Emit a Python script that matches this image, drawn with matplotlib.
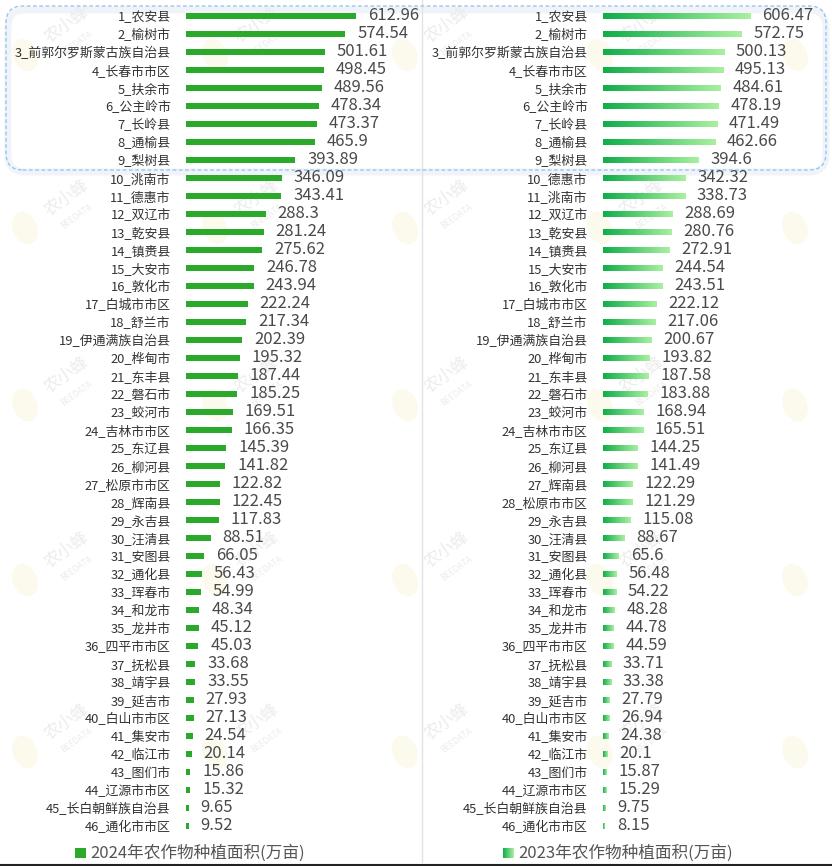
import numpy as np
import matplotlib
matplotlib.use("Agg")
import matplotlib.pyplot as plt
from matplotlib.patches import FancyBboxPatch, Rectangle, Ellipse
from matplotlib.colors import LinearSegmentedColormap

plt.rcParams['font.family'] = ['Noto Sans CJK SC', 'DejaVu Sans']

# 2024 数据
names_2024 = ['农安县', '榆树市', '前郭尔罗斯蒙古族自治县', '长春市市区', '扶余市', '公主岭市',
              '长岭县', '通榆县', '梨树县', '洮南市', '德惠市', '双辽市', '乾安县', '镇赉县',
              '大安市', '敦化市', '白城市市区', '舒兰市', '伊通满族自治县', '桦甸市', '东丰县',
              '磐石市', '蛟河市', '吉林市市区', '东辽县', '柳河县', '松原市市区', '辉南县',
              '永吉县', '汪清县', '安图县', '通化县', '珲春市', '和龙市', '龙井市', '四平市市区',
              '抚松县', '靖宇县', '延吉市', '白山市市区', '集安市', '临江市', '图们市',
              '辽源市市区', '长白朝鲜族自治县', '通化市市区']
values_2024 = [612.96, 574.54, 501.61, 498.45, 489.56, 478.34, 473.37, 465.9, 393.89, 346.09,
               343.41, 288.3, 281.24, 275.62, 246.78, 243.94, 222.24, 217.34, 202.39, 195.32,
               187.44, 185.25, 169.51, 166.35, 145.39, 141.82, 122.82, 122.45, 117.83, 88.51,
               66.05, 56.43, 54.99, 48.34, 45.12, 45.03, 33.68, 33.55, 27.93, 27.13, 24.54,
               20.14, 15.86, 15.32, 9.65, 9.52]

# 2023 数据
names_2023 = ['农安县', '榆树市', '前郭尔罗斯蒙古族自治县', '长春市市区', '扶余市', '公主岭市',
              '长岭县', '通榆县', '梨树县', '德惠市', '洮南市', '双辽市', '乾安县', '镇赉县',
              '大安市', '敦化市', '白城市市区', '舒兰市', '伊通满族自治县', '桦甸市', '东丰县',
              '磐石市', '蛟河市', '吉林市市区', '东辽县', '柳河县', '辉南县', '松原市市区',
              '永吉县', '汪清县', '安图县', '通化县', '珲春市', '和龙市', '龙井市', '四平市市区',
              '抚松县', '靖宇县', '延吉市', '白山市市区', '集安市', '临江市', '图们市',
              '辽源市市区', '长白朝鲜族自治县', '通化市市区']
values_2023 = [606.47, 572.75, 500.13, 495.13, 484.61, 478.19, 471.49, 462.66, 394.6, 342.32,
               338.73, 288.69, 280.76, 272.91, 244.54, 243.51, 222.12, 217.06, 200.67, 193.82,
               187.58, 183.88, 168.94, 165.51, 144.25, 141.49, 122.29, 121.29, 115.08, 88.67,
               65.6, 56.48, 54.22, 48.28, 44.78, 44.59, 33.71, 33.38, 27.79, 26.94, 24.38,
               20.1, 15.87, 15.29, 9.75, 8.15]

legend_2024 = '2024年农作物种植面积(万亩)'
legend_2023 = '2023年农作物种植面积(万亩)'

W, H = 832, 866
fig = plt.figure(figsize=(W / 100, H / 100), dpi=100)
fig.patch.set_facecolor('white')

def px(x, y, w, h):
    # 像素 -> figure 比例 (y 从上往下)
    return [x / W, 1 - (y + h) / H, w / W, h / H]

# 水印 (很淡, 放在最底层)
for cx in [25, 215, 405, 600, 795]:
    for cy in [55, 228, 405, 580, 752]:
        fig.patches.append(Ellipse((cx / W, 1 - cy / H), 24 / W, 34 / H, angle=25,
                                   transform=fig.transFigure, facecolor='#fbf6e2',
                                   edgecolor='none', alpha=0.6, zorder=-5))
        if cx < 700:
            fig.text((cx + 42) / W, 1 - (cy - 30) / H, '农小蜂', rotation=35, fontsize=12,
                     color='#ececec', ha='center', va='center', zorder=-5)
            fig.text((cx + 52) / W, 1 - (cy - 12) / H, 'BEEDATA', rotation=35, fontsize=6,
                     color='#ececec', ha='center', va='center', zorder=-5)

# 顶部高亮虚线框
fig.patches.append(FancyBboxPatch((8 / W, 1 - 172 / H), 818 / W, 162 / H,
                                  boxstyle='round,pad=0,rounding_size=0.02',
                                  transform=fig.transFigure, facecolor='none',
                                  edgecolor='#e6edf6', linewidth=5, alpha=0.6, zorder=-4))
fig.patches.append(FancyBboxPatch((6 / W, 1 - 170 / H), 820 / W, 164 / H,
                                  boxstyle='round,pad=0,rounding_size=0.02',
                                  transform=fig.transFigure, facecolor='none',
                                  edgecolor='#8ec2ee', linewidth=0.9, linestyle=(0, (3, 2)),
                                  zorder=-3))

# 中间分隔线 / 底边
fig.add_artist(plt.Line2D([422 / W, 422 / W], [1 - 862 / H, 1], color='#e2e2e2',
                          linewidth=1, transform=fig.transFigure, zorder=-3))
fig.add_artist(plt.Line2D([0, 1], [1 - 865 / H, 1 - 865 / H], color='#222222',
                          linewidth=1.5, transform=fig.transFigure))

n = len(names_2024)
ys = np.arange(n)
bar_h = 0.38

green_cmap = LinearSegmentedColormap.from_list('g', ['#0fae49', '#a9f0a0'])

def panel(rect, names, values, xmax, gradient):
    ax = fig.add_axes(rect)
    ax.patch.set_alpha(0)
    bars = ax.barh(ys, values, height=bar_h, color='#2ba92b', zorder=3)
    if gradient:
        grad = np.linspace(0, 1, 128).reshape(1, -1)
        for b, v in zip(bars, values):
            b.set_facecolor('none')
            y0 = b.get_y()
            im = ax.imshow(grad, extent=[0, v, y0, y0 + bar_h], cmap=green_cmap,
                           aspect='auto', zorder=3, interpolation='bicubic')
            im.set_clip_path(b)
    for y, v in zip(ys, values):
        ax.annotate(f'{v:g}', (v, y), xytext=(8.5, 0), textcoords='offset points',
                    ha='left', va='center', fontsize=12, color='#4a4a4a')
    ax.set_xlim(0, xmax)
    ax.set_ylim(n - 0.5, -0.5)
    ax.set_yticks(ys)
    ax.set_yticklabels([f'{i + 1}_{s}' for i, s in enumerate(names)], fontsize=9.3,
                       color='#333333')
    ax.tick_params(axis='y', length=0, pad=11)
    ax.set_xticks([])
    for sp in ax.spines.values():
        sp.set_visible(False)
    return ax

panel(px(186, 7, 234, 828), names_2024, values_2024, 234 / 0.2773, False)
panel(px(603, 7, 229, 828), names_2023, values_2023, 229 / 0.2424, True)

# 图例
fig.patches.append(Rectangle((75 / W, 1 - 858 / H), 11 / W, 10 / H,
                             transform=fig.transFigure, facecolor='#2ba92b', edgecolor='none'))
fig.text(90 / W, 1 - 853 / H, legend_2024, fontsize=12, color='#555555',
         ha='left', va='center')
lax = fig.add_axes(px(503, 848, 11, 10))
lax.imshow(np.linspace(0, 1, 32).reshape(1, -1), cmap=green_cmap, aspect='auto')
lax.axis('off')
fig.text(518 / W, 1 - 853 / H, legend_2023, fontsize=12, color='#555555',
         ha='left', va='center')

fig.savefig('out.png', dpi=100, facecolor='white')
